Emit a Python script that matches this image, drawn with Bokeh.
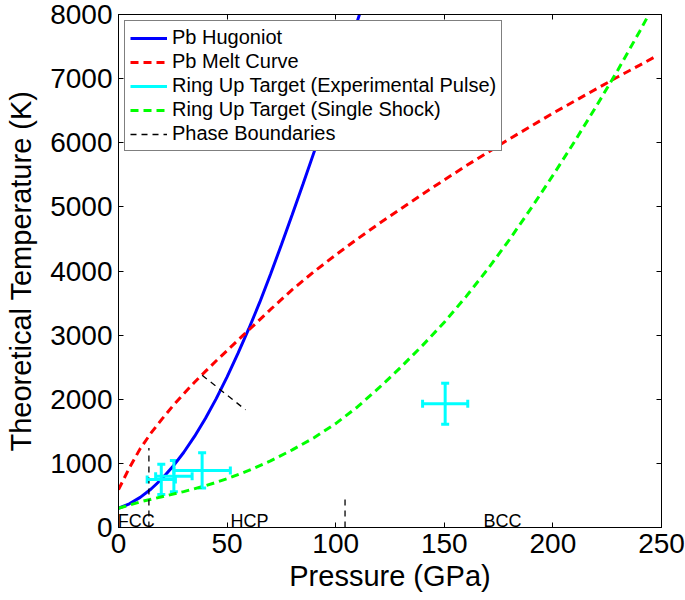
from bokeh.plotting import figure
from bokeh.models import (Range1d, LinearAxis, SingleIntervalTicker, Legend, LegendItem,
                          Whisker, TeeHead, ColumnDataSource)
from bokeh.core.properties import value
from bokeh.embed import file_html
from bokeh.resources import INLINE

# ---------------- data ----------------
hug_P = [0, 5, 10, 15, 20, 25, 30, 35, 40, 45, 50, 55, 60, 65, 70, 75, 80, 85, 90, 95, 100, 105, 110, 112]
hug_T = [300, 370, 470, 600, 760, 950, 1170, 1420, 1700, 2010, 2350, 2715, 3100, 3510, 3950, 4410,
         4880, 5360, 5850, 6350, 6860, 7380, 7900, 8110]

melt_P = [0, 5, 10, 15, 20, 25, 30, 35, 40, 45, 50, 55, 60, 70, 80, 90, 100, 110, 120, 130, 140, 150,
          160, 170, 180, 190, 200, 210, 220, 230, 240, 248]
melt_T = [590, 930, 1230, 1475, 1690, 1895, 2085, 2265, 2435, 2600, 2760, 2920, 3080, 3400, 3710, 3990,
          4250, 4500, 4740, 4970, 5200, 5420, 5640, 5850, 6060, 6260, 6460, 6650, 6840, 7030, 7210, 7360]

shock_P = [0, 10, 20, 30, 40, 50, 60, 70, 80, 90, 100, 110, 120, 130, 140, 150, 160, 170, 180, 190,
           200, 210, 220, 230, 240, 244]
shock_T = [300, 400, 480, 560, 650, 760, 890, 1040, 1210, 1400, 1620, 1880, 2180, 2500, 2840, 3200,
           3600, 4030, 4490, 4980, 5490, 6020, 6570, 7140, 7740, 7990]

exp_P = [19.7, 25.5, 38.5, 150.4]
exp_P_err = [6.5, 8.4, 13.0, 10.4]
exp_T = [750, 800, 890, 1930]
exp_T_err = [235, 243, 275, 320]

phase_xs = [[14, 14], [104.3, 104.3], [38.5, 58.5]]
phase_ys = [[0, 1240], [0, 480], [2375, 1835]]

phase_names = ["FCC", "HCP", "BCC"]
phase_label_P = [-0.3, 51.6, 168.0]
phase_label_T = [95, 95, 95]

# ---------------- figure ----------------
FONT = "Liberation Sans"

p = figure(width=685, height=600, output_backend="svg", toolbar_location=None,
           x_range=Range1d(0, 250), y_range=Range1d(0, 8000),
           min_border_left=118, min_border_right=24, min_border_top=14, min_border_bottom=73)
p.grid.visible = False
p.outline_line_color = "black"
p.outline_line_width = 1
p.background_fill_color = "white"
p.border_fill_color = "white"

xax = p.below[0]
yax = p.left[0]
xax.axis_label = "Pressure (GPa)"
yax.axis_label = "Theoretical Temperature (K)"
xax.ticker = SingleIntervalTicker(interval=50, num_minor_ticks=0)
yax.ticker = SingleIntervalTicker(interval=1000, num_minor_ticks=0)

top_ax = LinearAxis(ticker=SingleIntervalTicker(interval=50, num_minor_ticks=0))
right_ax = LinearAxis(ticker=SingleIntervalTicker(interval=1000, num_minor_ticks=0))
p.add_layout(top_ax, "above")
p.add_layout(right_ax, "right")

for ax in [xax, yax, top_ax, right_ax]:
    ax.major_tick_in = 5
    ax.major_tick_out = 0
    ax.minor_tick_line_color = None
    ax.axis_line_color = "black"
    ax.major_tick_line_color = "black"
    ax.major_label_text_font = FONT
    ax.major_label_text_color = "black"
    ax.axis_label_text_font = FONT
    ax.axis_label_text_font_style = "normal"
    ax.axis_label_text_color = "black"

for ax in [xax, yax]:
    ax.major_label_text_font_size = "28px"
    ax.axis_label_text_font_size = "29px"
    ax.major_label_standoff = 6
xax.axis_label_standoff = 4
yax.axis_label_standoff = 10

for ax in [top_ax, right_ax]:
    ax.major_label_text_font_size = "0px"
    ax.major_label_standoff = 0
    ax.major_label_text_alpha = 0

# ---------------- glyphs ----------------
CYAN = "#00FFFF"
r_hug = p.line(hug_P, hug_T, line_color="#0000FF", line_width=3)
r_melt = p.line(melt_P, melt_T, line_color="#FF0000", line_width=3, line_dash="8 5")
r_shock = p.line(shock_P, shock_T, line_color="#00FF00", line_width=3, line_dash="8 5")
r_phase = p.multi_line(phase_xs, phase_ys, line_color="black", line_width=1.3, line_dash="6 5")

src = ColumnDataSource(dict(
    P=exp_P, T=exp_T,
    P_lo=[a - b for a, b in zip(exp_P, exp_P_err)],
    P_hi=[a + b for a, b in zip(exp_P, exp_P_err)],
    T_lo=[a - b for a, b in zip(exp_T, exp_T_err)],
    T_hi=[a + b for a, b in zip(exp_T, exp_T_err)],
))
r_exp = p.segment(x0="P", y0="T_lo", x1="P", y1="T_hi", source=src, line_color=CYAN, line_width=3)
p.segment(x0="P_lo", y0="T", x1="P_hi", y1="T", source=src, line_color=CYAN, line_width=3)
for dim, base, lo, hi in [("height", "P", "T_lo", "T_hi"), ("width", "T", "P_lo", "P_hi")]:
    p.add_layout(Whisker(source=src, base=base, lower=lo, upper=hi, dimension=dim,
                         line_color=None,
                         upper_head=TeeHead(size=8, line_color=CYAN, line_width=3),
                         lower_head=TeeHead(size=8, line_color=CYAN, line_width=3)))

p.text(x=phase_label_P, y=phase_label_T, text=phase_names,
       text_font=value(FONT), text_font_size="18px", text_color="black",
       text_baseline="alphabetic", text_align="left")

legend = Legend(items=[
    LegendItem(label="Pb Hugoniot", renderers=[r_hug]),
    LegendItem(label="Pb Melt Curve", renderers=[r_melt]),
    LegendItem(label="Ring Up Target (Experimental Pulse)", renderers=[r_exp]),
    LegendItem(label="Ring Up Target (Single Shock)", renderers=[r_shock]),
    LegendItem(label="Phase Boundaries", renderers=[r_phase]),
], location="top_left")
legend.label_text_font = FONT
legend.label_text_font_size = "20px"
legend.label_text_color = "black"
legend.glyph_width = 37
legend.glyph_height = 20
legend.label_height = 20
legend.spacing = 1
legend.padding = 5
legend.margin = 6
legend.label_standoff = 5
legend.border_line_color = "black"
legend.border_line_width = 1
legend.background_fill_color = "white"
legend.background_fill_alpha = 1
p.add_layout(legend)

open("out.html", "w").write(file_html(p, INLINE))
